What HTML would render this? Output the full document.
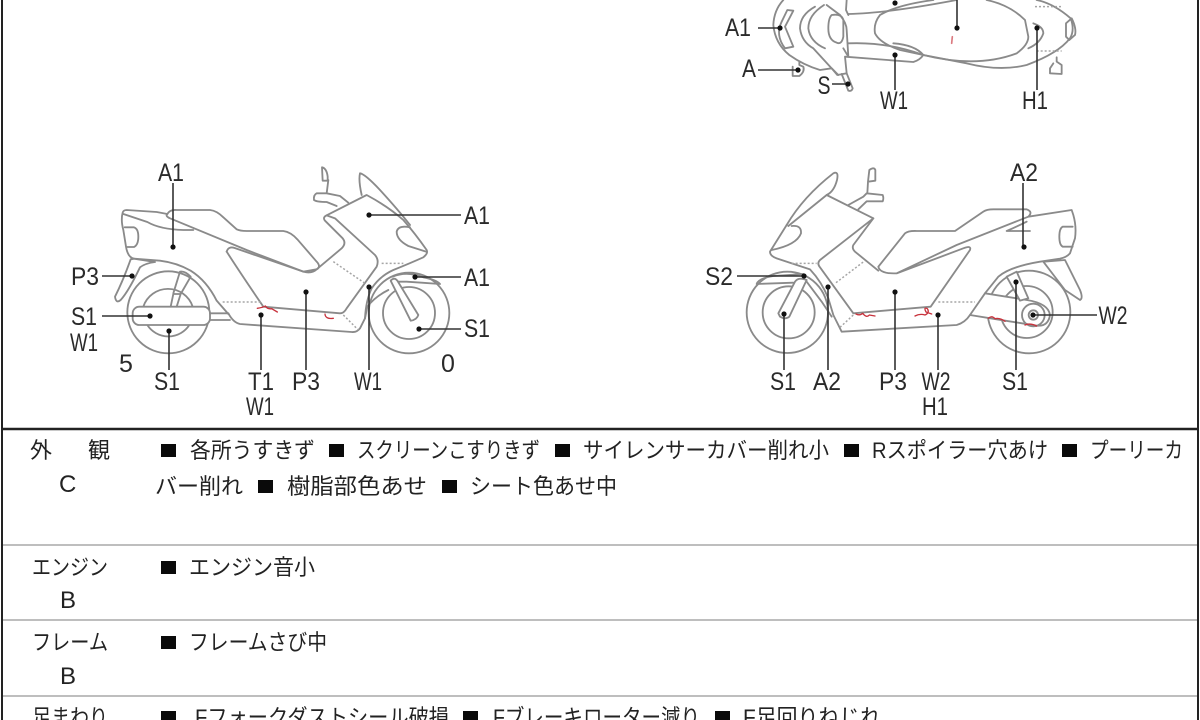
<!DOCTYPE html>
<html lang="ja"><head><meta charset="utf-8"><title>車両状態図</title>
<style>
html,body{margin:0;padding:0;background:#fff;width:1200px;height:720px;overflow:hidden}
svg{display:block;filter:blur(.3px)}
.b{fill:none;stroke:#8a8a8a;stroke-width:5.5;stroke-linejoin:round;stroke-linecap:round}
.w{fill:#fff}
.d{fill:none;stroke:#a5a5a5;stroke-width:4.5;stroke-dasharray:6 6}
.r{fill:none;stroke:#c8323c;stroke-width:4;stroke-linecap:round;stroke-linejoin:round}
.l{stroke:#333;stroke-width:1.6;fill:none}
.dot{fill:#111}
.t{font-family:"Liberation Sans","DejaVu Sans",sans-serif;font-size:25px;fill:#2a2a2a;text-anchor:middle}
.j{font-family:"Liberation Sans","Noto Sans CJK JP",sans-serif;font-size:22px;font-weight:400;fill:#222}
.m{fill:#0a0a0a}
</style></head><body>
<svg width="1200" height="720" viewBox="0 0 1200 720" xmlns="http://www.w3.org/2000/svg">
<rect width="1200" height="720" fill="#fff"/>

<!-- LEFT BIKE -->
<g transform="translate(60,150) scale(.33333)">
<circle class="b" cx="325" cy="487" r="123"/>
<path class="b" d="M250,470 A78,78 0 0 1 398,470 M262,525 A75,75 0 0 0 388,525"/>
<circle class="b" cx="1047" cy="489" r="121"/>
<circle class="b" cx="1047" cy="489" r="78"/>
<rect class="b w" x="218" y="470" width="232" height="55" rx="20"/>
<path class="b" d="M188,188 Q190,180 200,180 L290,186 L322,192 M188,188 Q182,210 190,240 L198,290 Q203,322 222,326 L300,332 Q350,338 392,362 Q440,392 470,452 L505,492 M190,192 L262,216 Q300,238 370,240 L400,240"/>
<path class="b" d="M194,232 L222,232 Q235,236 235,260 Q235,285 222,291 L202,291"/>
<path class="b w" d="M212,328 Q190,390 165,440 Q168,462 182,450 Q205,425 240,352 Q255,340 285,336 L222,326 Z"/>
<path class="b" d="M322,192 Q330,178 350,180 L450,180 Q470,182 490,202 L530,238 Q540,243 560,243 L670,243 Q692,246 712,268 L770,335 Q784,350 770,358 Q755,372 730,365 L560,300 L330,205 Q315,198 322,192Z"/>
<path class="b" d="M500,305 Q505,288 524,294 L730,365 L770,358 L845,295 Q860,280 848,265 L795,212 Q787,202 800,196 L920,135 Q985,170 1030,210 Q1065,250 1100,300 Q1105,310 1090,322 Q1050,340 1000,360 Q960,378 935,415 Q918,450 915,505 L900,535 Q890,548 875,546 L540,522 Q520,518 505,490"/>
<path class="b" d="M500,305 Q545,375 610,470 L840,490 Q852,490 860,475 L950,350 Q958,330 945,315 L825,205 L800,196"/>
<path class="b" d="M905,135 Q895,90 900,70 Q915,72 960,120 Q1015,180 1050,225"/>
<path class="b" d="M1050,232 Q1015,225 1010,245 Q1010,270 1045,288 L1098,305"/>
<path class="b" d="M800,130 L770,130 Q760,135 762,150 Q770,156 800,156 L830,168 M800,130 L840,138 L865,158 M800,130 L805,90 M786,52 Q800,55 803,80 L803,92 L788,92 Z"/>
<path class="b" d="M915,505 L922,470 Q945,440 985,420 M998,380 Q1040,362 1090,382 Q1130,390 1140,402 L1085,398 L1040,395 L1005,395"/>
<path class="b w" d="M992,392 Q1003,380 1012,392 L1075,495 Q1070,510 1052,512 Z"/>
<path class="b" d="M340,430 L360,365 Q375,362 392,380 L362,432 L350,470 M332,470 L340,432 L362,432"/>
<path class="b" d="M450,490 L505,490 M450,510 L510,510"/>
<path class="d" d="M488,456 L605,456 M820,335 L915,400 M965,340 L1030,340 M850,495 L895,540"/>
<path class="r" d="M592,475 Q610,472 616,468 Q622,478 635,476 L652,486 M795,492 Q796,508 820,505"/>
</g>

<!-- RIGHT BIKE -->
<g transform="translate(690,150) scale(.33333)">
<circle class="b" cx="292" cy="487" r="122"/>
<circle class="b" cx="296" cy="487" r="78"/>
<circle class="b" cx="1017" cy="486" r="124"/>
<circle class="b" cx="1010" cy="486" r="78"/>
<path class="b w" d="M840,495 L885,430 L1010,450 Q1075,460 1080,495 Q1075,530 1040,527 L920,508 Z"/>
<circle class="b" cx="1030" cy="495" r="34"/>
<circle class="b" cx="1030" cy="495" r="14"/>
<path class="b w" d="M265,490 L315,395 Q325,380 350,390 L298,500 Q285,510 270,500 Z"/>
<path class="b" d="M200,402 Q205,385 250,378 L340,372 M200,402 L310,398 M350,395 L395,455 L425,500"/>
<path class="b" d="M290,225 Q340,140 430,70 Q447,62 441,90 Q432,125 410,135 L295,228 M305,228 Q335,225 333,250 Q320,285 245,300"/>
<path class="b" d="M290,225 L240,305 Q240,318 260,325 L360,358 Q395,395 415,445 L430,495 L455,545 L800,525 Q825,518 840,495"/>
<path class="b" d="M410,135 L510,185 L550,205 L390,330 Q380,340 390,352 L490,490 L722,470 L840,300 Q845,285 820,295 L620,370 Q570,372 565,350 L645,250 Q655,242 680,243 L795,243 L880,185 Q890,178 910,178 L1010,178 Q1030,185 1015,200 L1145,180 L1150,195 Q1160,230 1155,265 L1140,310 Q1130,322 1110,326 L1050,335 Q960,350 925,380 L885,430 M1015,200 L800,285 L620,370"/>
<path class="b" d="M550,205 L490,285 Q485,295 495,305 L565,362"/>
<path class="b" d="M1010,215 Q980,230 950,243 L1020,243 M1148,230 L1118,230 Q1108,235 1108,260 Q1108,285 1118,290 L1148,290"/>
<path class="b w" d="M1060,335 L1125,420 L1170,450 Q1180,445 1170,420 L1125,330 Z"/>
<path class="b w" d="M950,380 L980,365 L1015,445 L990,452 Z"/>
<path class="b" d="M475,165 L520,140 L530,130 L578,135 Q582,145 578,154 L530,154 L505,178 M532,130 L534,95 L538,60 Q552,50 556,60 L556,92 L534,95"/>
<path class="d" d="M305,340 L380,340 M438,398 L525,332 M745,456 L855,456 M450,532 L490,495"/>
<path class="r" d="M498,492 Q510,498 518,490 Q530,505 538,495 L555,498 M675,498 Q690,490 705,495 Q720,488 712,476 Q700,470 708,486 L725,492 M895,505 Q905,495 915,506 Q930,503 945,514 M1005,525 Q1020,518 1040,528"/>
</g>

<!-- TOP VIEW -->
<g transform="translate(700,0) scale(.33333)">
<path class="b" d="M250,0 Q222,30 220,75 Q225,130 268,165 Q310,195 360,210 L395,205 L412,225 L440,220 L435,170 L640,186 Q660,180 670,165 L800,190 Q900,215 980,195 Q1075,160 1110,115 Q1125,90 1112,55 Q1060,10 1010,0"/>
<path class="b" d="M262,30 L280,32 L255,80 L280,140 L255,145 Q225,105 245,65 Z"/>
<path class="b" d="M345,20 Q300,45 300,85 Q305,125 340,145 L395,205 L415,225 M372,15 Q325,45 325,85 Q330,125 375,145"/>
<path class="b" d="M380,15 L420,45 Q440,70 440,90 L445,170 L430,145 M440,0 L438,30 L445,45 M395,45 Q425,40 430,60 L430,110 Q425,135 410,128 Q385,120 385,85 Q385,55 395,45 Z"/>
<path class="b" d="M445,42 Q560,40 770,0 M445,130 Q560,125 670,165 Q830,205 950,160 Q985,135 985,110 L975,60 Q930,15 860,0"/>
<path class="b" d="M700,0 Q590,15 540,45 Q520,70 525,100 Q540,130 600,150 L670,165 M670,165 Q645,135 580,130"/>
<path class="b" d="M1000,70 Q1030,80 1030,100 Q1020,130 985,145 M1115,55 Q1130,85 1125,105 L1108,120 L1098,110 L1098,70 Z"/>
<path class="b" d="M1060,190 L1050,205 L1050,220 L1085,222 L1085,195 L1070,185 L1070,172"/>
<path class="b" d="M278,200 L278,228 L298,228 Q315,215 310,200 L298,195 L298,187 M425,222 L445,272 Q455,275 458,265 L440,220"/>
<path class="d" d="M1005,20 L1085,20 M1010,153 L1085,153"/>
<path class="r" d="M757,110 L755,130" style="stroke-opacity:.65;stroke-width:5"/>
</g>

<!-- leaders -->
<g class="l">
<path d="M173,183V247M369,215H461M415,277H461M419,329H461M102,276H132M102,316H150M169,331V370M261,315V370M306,292V370M369,287V370"/>
<path d="M1023,183V247M737,276H804M1033,315H1097M784,314V370M828,287V370M895,292V370M938,315V370M1016,282V370"/>
<path d="M758,28H780M758,70H798M832,84H848M895,55V90M1037,28V90M957,0V28"/>
</g>
<g class="dot">
<circle cx="173" cy="247" r="2.6"/><circle cx="369" cy="215" r="2.6"/><circle cx="415" cy="277" r="2.6"/><circle cx="419" cy="329" r="2.6"/><circle cx="132" cy="276" r="2.6"/><circle cx="150" cy="316" r="2.6"/><circle cx="169" cy="331" r="2.6"/><circle cx="261" cy="315" r="2.6"/><circle cx="306" cy="292" r="2.6"/><circle cx="369" cy="287" r="2.6"/>
<circle cx="1024" cy="247" r="2.6"/><circle cx="804" cy="276" r="2.6"/><circle cx="1033" cy="315" r="2.6"/><circle cx="784" cy="314" r="2.6"/><circle cx="828" cy="287" r="2.6"/><circle cx="895" cy="292" r="2.6"/><circle cx="938" cy="315" r="2.6"/><circle cx="1016" cy="282" r="2.6"/>
<circle cx="780" cy="28" r="2.6"/><circle cx="798" cy="70" r="2.6"/><circle cx="848" cy="84" r="2.6"/><circle cx="895" cy="55" r="2.6"/><circle cx="1037" cy="28" r="2.6"/><circle cx="957" cy="28" r="2.6"/><circle cx="895" cy="3" r="2.6"/>
</g>

<!-- labels -->
<g class="t">
<text x="171" y="181" textLength="26" lengthAdjust="spacingAndGlyphs">A1</text>
<text x="477" y="224" textLength="26" lengthAdjust="spacingAndGlyphs">A1</text>
<text x="477" y="286" textLength="26" lengthAdjust="spacingAndGlyphs">A1</text>
<text x="477" y="337" textLength="26" lengthAdjust="spacingAndGlyphs">S1</text>
<text x="85" y="285" textLength="28" lengthAdjust="spacingAndGlyphs">P3</text>
<text x="84" y="325" textLength="26" lengthAdjust="spacingAndGlyphs">S1</text>
<text x="84" y="351" textLength="28" lengthAdjust="spacingAndGlyphs">W1</text>
<text x="126" y="372">5</text>
<text x="167" y="390" textLength="26" lengthAdjust="spacingAndGlyphs">S1</text>
<text x="261" y="390" textLength="26" lengthAdjust="spacingAndGlyphs">T1</text>
<text x="260" y="415" textLength="28" lengthAdjust="spacingAndGlyphs">W1</text>
<text x="306" y="390" textLength="28" lengthAdjust="spacingAndGlyphs">P3</text>
<text x="368" y="390" textLength="28" lengthAdjust="spacingAndGlyphs">W1</text>
<text x="448" y="372">0</text>
<text x="1024" y="181" textLength="28" lengthAdjust="spacingAndGlyphs">A2</text>
<text x="719" y="285" textLength="28" lengthAdjust="spacingAndGlyphs">S2</text>
<text x="1113" y="324" textLength="29" lengthAdjust="spacingAndGlyphs">W2</text>
<text x="783" y="390" textLength="26" lengthAdjust="spacingAndGlyphs">S1</text>
<text x="827" y="390" textLength="28" lengthAdjust="spacingAndGlyphs">A2</text>
<text x="893" y="390" textLength="28" lengthAdjust="spacingAndGlyphs">P3</text>
<text x="936" y="390" textLength="29" lengthAdjust="spacingAndGlyphs">W2</text>
<text x="935" y="415" textLength="26" lengthAdjust="spacingAndGlyphs">H1</text>
<text x="1015" y="390" textLength="26" lengthAdjust="spacingAndGlyphs">S1</text>
<text x="738" y="36" textLength="26" lengthAdjust="spacingAndGlyphs">A1</text>
<text x="749" y="77" textLength="14" lengthAdjust="spacingAndGlyphs">A</text>
<text x="824" y="94" textLength="13" lengthAdjust="spacingAndGlyphs">S</text>
<text x="894" y="109" textLength="28" lengthAdjust="spacingAndGlyphs">W1</text>
<text x="1035" y="109" textLength="26" lengthAdjust="spacingAndGlyphs">H1</text>
</g>

<!-- table -->
<g fill="none">
<path d="M2,0V720M1198,0V720" stroke="#222" stroke-width="2"/>
<path d="M2,429H1198" stroke="#222" stroke-width="2.4"/>
<path d="M3,545H1197M3,620H1197M3,696H1197" stroke="#a8a8a8" stroke-width="1.4"/>
</g>
<g class="m">
<rect x="161" y="444" width="15" height="13"/><rect x="329" y="444" width="15" height="13"/><rect x="555" y="444" width="15" height="13"/><rect x="844" y="444" width="15" height="13"/><rect x="1062" y="444" width="15" height="13"/>
<rect x="258" y="480" width="15" height="13"/><rect x="442" y="480" width="15" height="13"/>
<rect x="161" y="561" width="15" height="13"/><rect x="161" y="636" width="15" height="13"/>
<rect x="161" y="711" width="15" height="13"/><rect x="463" y="711" width="15" height="13"/><rect x="715" y="711" width="15" height="13"/>
</g>
<g class="j">
<text x="30" y="458">外</text><text x="88" y="458">観</text>
<text x="59" y="492" style="font-size:24px">C</text>
<text x="190" y="458" textLength="125" lengthAdjust="spacingAndGlyphs">各所うすきず</text>
<text x="357" y="458" textLength="183" lengthAdjust="spacingAndGlyphs">スクリーンこすりきず</text>
<text x="583" y="458" textLength="246" lengthAdjust="spacingAndGlyphs">サイレンサーカバー削れ小</text>
<text x="872" y="458" textLength="176" lengthAdjust="spacingAndGlyphs">Rスポイラー穴あけ</text>
<text x="1090" y="458" textLength="93" lengthAdjust="spacingAndGlyphs">プーリーカ</text>
<text x="155" y="494" textLength="88" lengthAdjust="spacingAndGlyphs">バー削れ</text>
<text x="287" y="494" textLength="140" lengthAdjust="spacingAndGlyphs">樹脂部色あせ</text>
<text x="470" y="494" textLength="147" lengthAdjust="spacingAndGlyphs">シート色あせ中</text>
<text x="32" y="575" textLength="76" lengthAdjust="spacingAndGlyphs">エンジン</text>
<text x="60" y="608" style="font-size:24px">B</text>
<text x="189" y="575" textLength="126" lengthAdjust="spacingAndGlyphs">エンジン音小</text>
<text x="32" y="650" textLength="76" lengthAdjust="spacingAndGlyphs">フレーム</text>
<text x="60" y="684" style="font-size:24px">B</text>
<text x="189" y="650" textLength="138" lengthAdjust="spacingAndGlyphs">フレームさび中</text>
<text x="32" y="725" textLength="76" lengthAdjust="spacingAndGlyphs">足まわり</text>
<text x="195" y="725" textLength="254" lengthAdjust="spacingAndGlyphs">Fフォークダストシール破損</text>
<text x="493" y="725" textLength="207" lengthAdjust="spacingAndGlyphs">Fブレーキローター減り</text>
<text x="743" y="725" textLength="138" lengthAdjust="spacingAndGlyphs">F足回りねじれ</text>
</g>
</svg>
</body></html>
